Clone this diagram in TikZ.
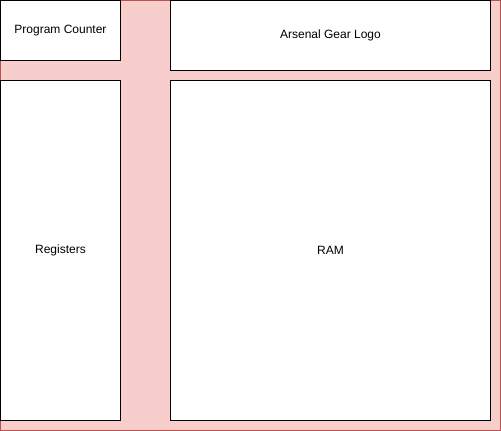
\documentclass[tikz,border=0pt]{standalone}
\usepackage{fontspec}
\setmainfont{Liberation Sans}
\usepackage{tikz}
\usepackage{xcolor}
\definecolor{panelpink}{RGB}{248, 206, 204}
\definecolor{panelred}{RGB}{184, 84, 80}

\begin{document}
\begin{tikzpicture}[x=1pt, y=-1pt, line width=1pt,
        block/.style={draw=black, fill=white, anchor=north west, inner sep=0pt, outer sep=0pt, font=\fontsize{12}{14}\selectfont}]
            \useasboundingbox (-0.5,-0.5) rectangle (500.5,430.5);
            
            % Background panel
            \node[draw=panelred, fill=panelpink, anchor=north west, inner sep=0pt, outer sep=0pt,
                minimum width=500pt, minimum height=430pt] (panel) at (0,0) {};
            
            % Left column
            \node[block, minimum width=120pt, minimum height=60pt] (counter) at (0,0) {Program Counter};
            \node[block, minimum width=120pt, minimum height=340pt] (registers) at (0,80) {Registers};
            
            % Right column
            \node[block, minimum width=320pt, minimum height=70pt] (logo) at (170,0) {Arsenal Gear Logo};
            \node[block, minimum width=320pt, minimum height=340pt] (ram) at (170,80) {RAM};
        \end{tikzpicture}
\end{document}
